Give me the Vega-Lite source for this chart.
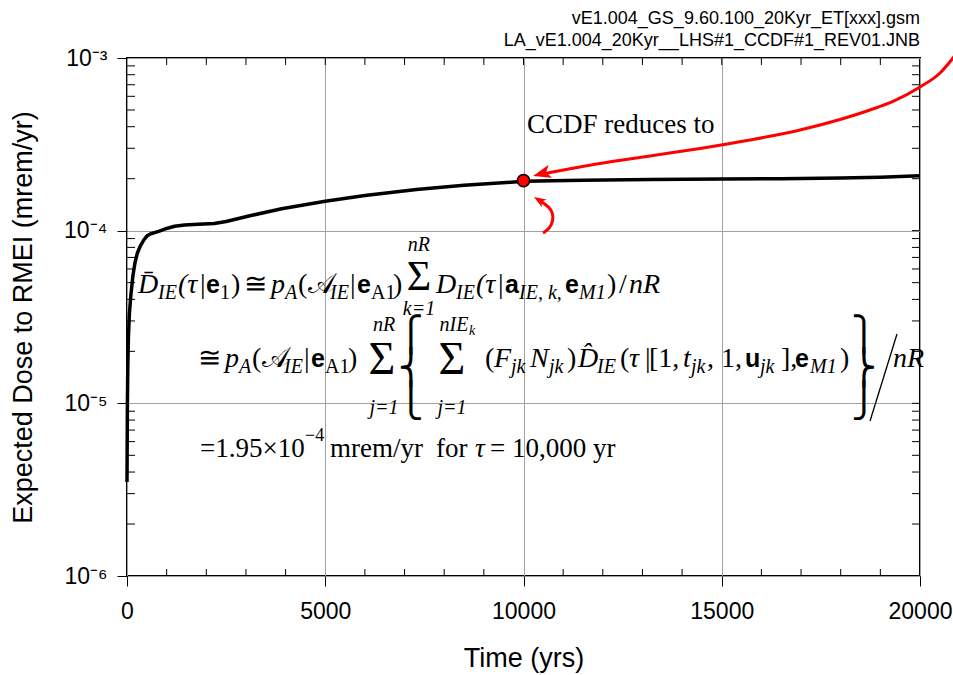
{
  "$schema": "https://vega.github.io/schema/vega-lite/v6.json",
  "width": 793,
  "height": 518,
  "autosize": {"type": "none"},
  "padding": {"left": 127, "top": 58, "right": 33, "bottom": 99},
  "background": "white",
  "title": {
    "text": "vE1.004_GS_9.60.100_20Kyr_ET[xxx].gsm",
    "subtitle": "LA_vE1.004_20Kyr__LHS#1_CCDF#1_REV01.JNB",
    "anchor": "end",
    "frame": "group",
    "font": "Liberation Sans",
    "fontSize": 18,
    "fontWeight": "normal",
    "color": "black",
    "subtitleFont": "Liberation Sans",
    "subtitleFontSize": 18,
    "subtitleColor": "black",
    "subtitlePadding": 4,
    "offset": -10
  },
  "config": {
    "view": {"stroke": "black", "strokeWidth": 2}
  },
  "resolve": {"axis": {"x": "independent", "y": "independent"}},
  "datasets": {
    "curve": [
      {"t": 0, "v": 3.5e-6}, {"t": 5, "v": 6e-6}, {"t": 10, "v": 1.0e-5}, {"t": 20, "v": 1.6e-5},
      {"t": 35, "v": 2.4e-5}, {"t": 60, "v": 3.3e-5}, {"t": 100, "v": 4.3e-5}, {"t": 150, "v": 5.5e-5},
      {"t": 200, "v": 6.5e-5}, {"t": 260, "v": 7.4e-5}, {"t": 330, "v": 8.1e-5}, {"t": 420, "v": 8.8e-5},
      {"t": 500, "v": 9.3e-5}, {"t": 600, "v": 9.6e-5}, {"t": 800, "v": 9.9e-5}, {"t": 1000, "v": 1.03e-4},
      {"t": 1200, "v": 1.06e-4}, {"t": 1450, "v": 1.08e-4}, {"t": 1800, "v": 1.09e-4}, {"t": 2200, "v": 1.10e-4},
      {"t": 2500, "v": 1.13e-4}, {"t": 3100, "v": 1.22e-4}, {"t": 3900, "v": 1.34e-4}, {"t": 5000, "v": 1.48e-4},
      {"t": 6000, "v": 1.60e-4}, {"t": 7300, "v": 1.73e-4}, {"t": 8500, "v": 1.83e-4}, {"t": 10000, "v": 1.93e-4},
      {"t": 11500, "v": 1.96e-4}, {"t": 13200, "v": 1.98e-4}, {"t": 15000, "v": 1.99e-4}, {"t": 16500, "v": 2.00e-4},
      {"t": 18000, "v": 2.02e-4}, {"t": 19000, "v": 2.04e-4}, {"t": 20000, "v": 2.08e-4}
    ],
    "dot": [{"t": 10000, "v": 1.95e-4}],
    "minorBottom": [
      {"t": 1000, "v": 1e-6}, {"t": 2000, "v": 1e-6}, {"t": 3000, "v": 1e-6}, {"t": 4000, "v": 1e-6},
      {"t": 6000, "v": 1e-6}, {"t": 7000, "v": 1e-6}, {"t": 8000, "v": 1e-6}, {"t": 9000, "v": 1e-6},
      {"t": 11000, "v": 1e-6}, {"t": 12000, "v": 1e-6}, {"t": 13000, "v": 1e-6}, {"t": 14000, "v": 1e-6},
      {"t": 16000, "v": 1e-6}, {"t": 17000, "v": 1e-6}, {"t": 18000, "v": 1e-6}, {"t": 19000, "v": 1e-6}
    ],
    "minorTop": [
      {"t": 1000, "v": 1e-3}, {"t": 2000, "v": 1e-3}, {"t": 3000, "v": 1e-3}, {"t": 4000, "v": 1e-3},
      {"t": 5000, "v": 1e-3}, {"t": 6000, "v": 1e-3}, {"t": 7000, "v": 1e-3}, {"t": 8000, "v": 1e-3},
      {"t": 9000, "v": 1e-3}, {"t": 10000, "v": 1e-3}, {"t": 11000, "v": 1e-3}, {"t": 12000, "v": 1e-3},
      {"t": 13000, "v": 1e-3}, {"t": 14000, "v": 1e-3}, {"t": 15000, "v": 1e-3}, {"t": 16000, "v": 1e-3},
      {"t": 17000, "v": 1e-3}, {"t": 18000, "v": 1e-3}, {"t": 19000, "v": 1e-3}
    ],
    "minorLeft": [
      {"t": 0, "v": 2e-6}, {"t": 0, "v": 3e-6}, {"t": 0, "v": 4e-6}, {"t": 0, "v": 5e-6},
      {"t": 0, "v": 6e-6}, {"t": 0, "v": 7e-6}, {"t": 0, "v": 8e-6}, {"t": 0, "v": 9e-6},
      {"t": 0, "v": 2e-5}, {"t": 0, "v": 3e-5}, {"t": 0, "v": 4e-5}, {"t": 0, "v": 5e-5},
      {"t": 0, "v": 6e-5}, {"t": 0, "v": 7e-5}, {"t": 0, "v": 8e-5}, {"t": 0, "v": 9e-5},
      {"t": 0, "v": 2e-4}, {"t": 0, "v": 3e-4}, {"t": 0, "v": 4e-4}, {"t": 0, "v": 5e-4},
      {"t": 0, "v": 6e-4}, {"t": 0, "v": 7e-4}, {"t": 0, "v": 8e-4}, {"t": 0, "v": 9e-4}
    ],
    "minorRight": [
      {"t": 20000, "v": 2e-6}, {"t": 20000, "v": 3e-6}, {"t": 20000, "v": 4e-6}, {"t": 20000, "v": 5e-6},
      {"t": 20000, "v": 6e-6}, {"t": 20000, "v": 7e-6}, {"t": 20000, "v": 8e-6}, {"t": 20000, "v": 9e-6},
      {"t": 20000, "v": 1e-5},
      {"t": 20000, "v": 2e-5}, {"t": 20000, "v": 3e-5}, {"t": 20000, "v": 4e-5}, {"t": 20000, "v": 5e-5},
      {"t": 20000, "v": 6e-5}, {"t": 20000, "v": 7e-5}, {"t": 20000, "v": 8e-5}, {"t": 20000, "v": 9e-5},
      {"t": 20000, "v": 1e-4},
      {"t": 20000, "v": 2e-4}, {"t": 20000, "v": 3e-4}, {"t": 20000, "v": 4e-4}, {"t": 20000, "v": 5e-4},
      {"t": 20000, "v": 6e-4}, {"t": 20000, "v": 7e-4}, {"t": 20000, "v": 8e-4}, {"t": 20000, "v": 9e-4}
    ],
    "arrowLong": [
      {"t": 10542, "v": 2.143e-4}, {"t": 11929, "v": 2.449e-4}, {"t": 13190, "v": 2.706e-4},
      {"t": 14451, "v": 2.992e-4}, {"t": 15712, "v": 3.350e-4}, {"t": 16974, "v": 3.828e-4},
      {"t": 17982, "v": 4.404e-4}, {"t": 18739, "v": 4.999e-4}, {"t": 19319, "v": 5.599e-4},
      {"t": 20000, "v": 6.792e-4}, {"t": 20504, "v": 8.187e-4}, {"t": 20832, "v": 1.0e-3},
      {"t": 21059, "v": 1.173e-3}
    ],
    "headLong": [{"t": 10240, "v": 2.073e-4}],
    "arrowSmall": [
      {"o": 1, "t": 10492, "v": 9.69e-5}, {"o": 2, "t": 10668, "v": 1.036e-4}, {"o": 3, "t": 10744, "v": 1.137e-4},
      {"o": 4, "t": 10744, "v": 1.266e-4}, {"o": 5, "t": 10643, "v": 1.371e-4}, {"o": 6, "t": 10467, "v": 1.466e-4},
      {"o": 7, "t": 10366, "v": 1.515e-4}
    ],
    "headSmall": [{"t": 10265, "v": 1.566e-4}],
    "eqItalic": [
      {"t": 277, "v": 4.355e-5, "s": "D\u0304"},
      {"t": 1286, "v": 4.355e-5, "s": "(τ"},
      {"t": 3632, "v": 4.355e-5, "s": "p"},
      {"t": 7793, "v": 4.355e-5, "s": "D"},
      {"t": 8802, "v": 4.355e-5, "s": "(τ"},
      {"t": 12661, "v": 4.355e-5, "s": "nR"},
      {"t": 2472, "v": 1.623e-5, "s": "p"},
      {"t": 9256, "v": 1.623e-5, "s": "F"},
      {"t": 10164, "v": 1.623e-5, "s": "N"},
      {"t": 11375, "v": 1.623e-5, "s": "D\u0302"},
      {"t": 12661, "v": 1.623e-5, "s": "τ"},
      {"t": 14023, "v": 1.623e-5, "s": "t"},
      {"t": 19319, "v": 1.623e-5, "s": "nR"}
    ],
    "eqRoman": [
      {"t": 1841, "v": 4.355e-5, "s": "|"},
      {"t": 2623, "v": 4.355e-5, "s": ")"},
      {"t": 2951, "v": 4.355e-5, "s": "≅"},
      {"t": 4313, "v": 4.355e-5, "s": "("},
      {"t": 5624, "v": 4.355e-5, "s": "|"},
      {"t": 6709, "v": 4.355e-5, "s": ")"},
      {"t": 9357, "v": 4.355e-5, "s": "|"},
      {"t": 12106, "v": 4.355e-5, "s": ")"},
      {"t": 12409, "v": 4.355e-5, "s": "/"},
      {"t": 1791, "v": 1.623e-5, "s": "≅"},
      {"t": 3153, "v": 1.623e-5, "s": "("},
      {"t": 4464, "v": 1.623e-5, "s": "|"},
      {"t": 5574, "v": 1.623e-5, "s": ")"},
      {"t": 9029, "v": 1.623e-5, "s": "("},
      {"t": 11097, "v": 1.623e-5, "s": ")"},
      {"t": 12434, "v": 1.623e-5, "s": "("},
      {"t": 13064, "v": 1.623e-5, "s": "|"},
      {"t": 13165, "v": 1.623e-5, "s": "[1,"},
      {"t": 14628, "v": 1.623e-5, "s": ", 1,"},
      {"t": 16494, "v": 1.623e-5, "s": "],"},
      {"t": 17982, "v": 1.623e-5, "s": ")"}
    ],
    "eqBold": [
      {"t": 1992, "v": 4.355e-5, "s": "e"},
      {"t": 5801, "v": 4.355e-5, "s": "e"},
      {"t": 9533, "v": 4.355e-5, "s": "a"},
      {"t": 11047, "v": 4.355e-5, "s": "e"},
      {"t": 4641, "v": 1.623e-5, "s": "e"},
      {"t": 15586, "v": 1.623e-5, "s": "u"},
      {"t": 16847, "v": 1.623e-5, "s": "e"}
    ],
    "eqSubItalic": [
      {"t": 782, "v": 4.02e-5, "s": "IE"},
      {"t": 3985, "v": 4.02e-5, "s": "A"},
      {"t": 5120, "v": 4.02e-5, "s": "IE"},
      {"t": 8298, "v": 4.02e-5, "s": "IE"},
      {"t": 9887, "v": 4.02e-5, "s": "IE, k,"},
      {"t": 11400, "v": 4.02e-5, "s": "M1"},
      {"t": 2825, "v": 1.499e-5, "s": "A"},
      {"t": 3960, "v": 1.499e-5, "s": "IE"},
      {"t": 9685, "v": 1.499e-5, "s": "jk"},
      {"t": 10643, "v": 1.499e-5, "s": "jk"},
      {"t": 11854, "v": 1.499e-5, "s": "IE"},
      {"t": 14225, "v": 1.499e-5, "s": "jk"},
      {"t": 15965, "v": 1.499e-5, "s": "jk"},
      {"t": 17226, "v": 1.499e-5, "s": "M1"}
    ],
    "eqSubRoman": [
      {"t": 2346, "v": 4.02e-5, "s": "1"},
      {"t": 6154, "v": 4.02e-5, "s": "A1"},
      {"t": 4994, "v": 1.499e-5, "s": "A1"}
    ],
    "eqScript": [
      {"t": 4565, "v": 4.355e-5, "s": "𝒜"},
      {"t": 3405, "v": 1.623e-5, "s": "𝒜"}
    ],
    "eqSigmaTop": [
      {"t": 7364, "v": 4.532e-5, "s": "Σ"}
    ],
    "eqSigmaBottom": [
      {"t": 6431, "v": 1.479e-5, "s": "Σ"},
      {"t": 8197, "v": 1.479e-5, "s": "Σ"}
    ],
    "eqLimits": [
      {"t": 7364, "v": 7.625e-5, "s": "nR"},
      {"t": 7364, "v": 3.254e-5, "s": "k=1"},
      {"t": 6482, "v": 2.624e-5, "s": "nR"},
      {"t": 6482, "v": 8.674e-6, "s": "j=1"},
      {"t": 8247, "v": 2.624e-5, "s": "nIE"},
      {"t": 8197, "v": 8.674e-6, "s": "j=1"}
    ],
    "eqTiny": [{"t": 8625, "v": 2.488e-5, "s": "k"}],
    "eqBraces": [
      {"t": 7163, "v": 2.455e-5, "s": "⎧"},
      {"t": 7163, "v": 1.581e-5, "s": "⎨"},
      {"t": 7163, "v": 1.018e-5, "s": "⎩"},
      {"t": 18588, "v": 2.455e-5, "s": "⎫"},
      {"t": 18588, "v": 1.581e-5, "s": "⎬"},
      {"t": 18588, "v": 1.018e-5, "s": "⎭"}
    ],
    "eqSlash": [{"t": 18740, "v": 7.902e-6, "t2": 19420, "v2": 2.521e-5}],
    "l3Roman": [
      {"t": 1841, "v": 4.889e-6, "s": "=1.95×10"},
      {"t": 5120, "v": 4.889e-6, "s": "mrem/yr"},
      {"t": 7793, "v": 4.889e-6, "s": "for"},
      {"t": 9155, "v": 4.889e-6, "s": "= 10,000 yr"}
    ],
    "l3Italic": [{"t": 8777, "v": 4.889e-6, "s": "τ"}],
    "l3Sup": [{"t": 4489, "v": 6.051e-6, "s": "−4"}],
    "note": [{"t": 10088, "v": 4.093e-4, "s": "CCDF reduces to"}]
  },
  "encoding": {
    "x": {"field": "t", "type": "quantitative", "scale": {"domain": [0, 20000], "nice": false, "zero": false}, "axis": null},
    "y": {"field": "v", "type": "quantitative", "scale": {"type": "log", "domain": [1e-6, 1e-3], "nice": false}, "axis": null}
  },
  "layer": [
    {
      "data": {"name": "curve"},
      "mark": {"type": "line", "color": "black", "strokeWidth": 3.5, "strokeJoin": "round"},
      "encoding": {
        "x": {
          "field": "t", "type": "quantitative",
          "scale": {"domain": [0, 20000], "nice": false, "zero": false},
          "axis": {
            "orient": "bottom", "values": [0, 5000, 10000, 15000, 20000], "format": "d",
            "grid": true, "gridColor": "#a0a0a0", "gridWidth": 1, "domain": false,
            "tickSize": 10, "tickColor": "black", "tickWidth": 1,
            "labelFont": "Liberation Sans", "labelFontSize": 23, "labelColor": "black", "labelPadding": 14,
            "labelFlush": false, "labelOverlap": false,
            "title": "Time (yrs)", "titleFont": "Liberation Sans", "titleFontSize": 27,
            "titleFontWeight": "normal", "titleColor": "black", "titlePadding": 22
          }
        },
        "y": {
          "field": "v", "type": "quantitative",
          "scale": {"type": "log", "domain": [1e-6, 1e-3], "nice": false},
          "axis": {
            "orient": "left", "values": [1e-6, 1e-5, 1e-4, 1e-3],
            "labelExpr": "datum.value < 2e-6 ? '10⁻⁶' : datum.value < 2e-5 ? '10⁻⁵' : datum.value < 2e-4 ? '10⁻⁴' : '10⁻³'",
            "grid": true, "gridColor": "#a0a0a0", "gridWidth": 1, "domain": false,
            "tickSize": 10, "tickColor": "black", "tickWidth": 1,
            "labelFont": "Liberation Sans", "labelFontSize": 23, "labelColor": "black", "labelPadding": 10,
            "labelFlush": false, "labelOverlap": false,
            "title": "Expected Dose to RMEI (mrem/yr)", "titleFont": "Liberation Sans", "titleFontSize": 27,
            "titleFontWeight": "normal", "titleColor": "black", "titlePadding": 26
          }
        }
      }
    },
    {
      "data": {"name": "minorBottom"},
      "mark": {"type": "rule", "color": "black", "strokeWidth": 1, "y2Offset": -7},
      "encoding": {"y2": {"field": "v"}}
    },
    {
      "data": {"name": "minorTop"},
      "mark": {"type": "rule", "color": "black", "strokeWidth": 1, "y2Offset": 7},
      "encoding": {"y2": {"field": "v"}}
    },
    {
      "data": {"name": "minorLeft"},
      "mark": {"type": "rule", "color": "black", "strokeWidth": 1, "x2Offset": 8},
      "encoding": {"x2": {"field": "t"}}
    },
    {
      "data": {"name": "minorRight"},
      "mark": {"type": "rule", "color": "black", "strokeWidth": 1, "x2Offset": -8},
      "encoding": {"x2": {"field": "t"}}
    },
    {
      "data": {"name": "arrowLong"},
      "mark": {"type": "line", "color": "#ff0000", "strokeWidth": 3, "interpolate": "monotone"}
    },
    {
      "data": {"name": "headLong"},
      "mark": {"type": "point", "shape": "M0,0 L-2,-0.75 L-1.5,0 L-2,0.75 Z", "filled": true, "fill": "#ff0000", "strokeWidth": 0, "size": 324, "angle": 165, "opacity": 1}
    },
    {
      "data": {"name": "arrowSmall"},
      "mark": {"type": "line", "color": "#ff0000", "strokeWidth": 3, "interpolate": "basis"},
      "encoding": {"order": {"field": "o", "type": "quantitative"}}
    },
    {
      "data": {"name": "headSmall"},
      "mark": {"type": "point", "shape": "M0,0 L-2,-0.75 L-1.5,0 L-2,0.75 Z", "filled": true, "fill": "#ff0000", "strokeWidth": 0, "size": 144, "angle": 212, "opacity": 1}
    },
    {
      "data": {"name": "dot"},
      "mark": {"type": "point", "filled": true, "fill": "#ff0000", "stroke": "black", "strokeWidth": 1.5, "size": 150, "opacity": 1}
    },
    {
      "data": {"name": "note"},
      "mark": {"type": "text", "font": "Liberation Serif", "fontSize": 27, "align": "left", "baseline": "middle", "color": "black"},
      "encoding": {"text": {"field": "s"}}
    },
    {
      "data": {"name": "eqItalic"},
      "mark": {"type": "text", "font": "Liberation Serif", "fontSize": 28, "fontStyle": "italic", "align": "left", "baseline": "alphabetic", "color": "black"},
      "encoding": {"text": {"field": "s"}}
    },
    {
      "data": {"name": "eqRoman"},
      "mark": {"type": "text", "font": "Liberation Serif", "fontSize": 28, "align": "left", "baseline": "alphabetic", "color": "black"},
      "encoding": {"text": {"field": "s"}}
    },
    {
      "data": {"name": "eqBold"},
      "mark": {"type": "text", "font": "Liberation Sans", "fontSize": 25, "fontWeight": "bold", "align": "left", "baseline": "alphabetic", "color": "black"},
      "encoding": {"text": {"field": "s"}}
    },
    {
      "data": {"name": "eqSubItalic"},
      "mark": {"type": "text", "font": "Liberation Serif", "fontSize": 20, "fontStyle": "italic", "align": "left", "baseline": "alphabetic", "color": "black"},
      "encoding": {"text": {"field": "s"}}
    },
    {
      "data": {"name": "eqSubRoman"},
      "mark": {"type": "text", "font": "Liberation Serif", "fontSize": 20, "align": "left", "baseline": "alphabetic", "color": "black"},
      "encoding": {"text": {"field": "s"}}
    },
    {
      "data": {"name": "eqScript"},
      "mark": {"type": "text", "font": "Liberation Serif", "fontSize": 28, "align": "left", "baseline": "alphabetic", "color": "black"},
      "encoding": {"text": {"field": "s"}}
    },
    {
      "data": {"name": "eqSigmaTop"},
      "mark": {"type": "text", "font": "Liberation Serif", "fontSize": 42, "align": "center", "baseline": "alphabetic", "color": "black"},
      "encoding": {"text": {"field": "s"}}
    },
    {
      "data": {"name": "eqSigmaBottom"},
      "mark": {"type": "text", "font": "Liberation Serif", "fontSize": 46, "align": "center", "baseline": "alphabetic", "color": "black"},
      "encoding": {"text": {"field": "s"}}
    },
    {
      "data": {"name": "eqLimits"},
      "mark": {"type": "text", "font": "Liberation Serif", "fontSize": 20, "fontStyle": "italic", "align": "center", "baseline": "alphabetic", "color": "black"},
      "encoding": {"text": {"field": "s"}}
    },
    {
      "data": {"name": "eqTiny"},
      "mark": {"type": "text", "font": "Liberation Serif", "fontSize": 14, "fontStyle": "italic", "align": "left", "baseline": "alphabetic", "color": "black"},
      "encoding": {"text": {"field": "s"}}
    },
    {
      "data": {"name": "eqBraces"},
      "mark": {"type": "text", "font": "DejaVu Sans", "fontSize": 34, "align": "center", "baseline": "middle", "color": "black"},
      "encoding": {"text": {"field": "s"}}
    },
    {
      "data": {"name": "eqSlash"},
      "mark": {"type": "rule", "color": "black", "strokeWidth": 1.3},
      "encoding": {"x2": {"field": "t2"}, "y2": {"field": "v2"}}
    },
    {
      "data": {"name": "l3Roman"},
      "mark": {"type": "text", "font": "Liberation Serif", "fontSize": 27, "align": "left", "baseline": "alphabetic", "color": "black"},
      "encoding": {"text": {"field": "s"}}
    },
    {
      "data": {"name": "l3Italic"},
      "mark": {"type": "text", "font": "Liberation Serif", "fontSize": 27, "fontStyle": "italic", "align": "left", "baseline": "alphabetic", "color": "black"},
      "encoding": {"text": {"field": "s"}}
    },
    {
      "data": {"name": "l3Sup"},
      "mark": {"type": "text", "font": "Liberation Serif", "fontSize": 18, "align": "left", "baseline": "alphabetic", "color": "black"},
      "encoding": {"text": {"field": "s"}}
    }
  ]
}
